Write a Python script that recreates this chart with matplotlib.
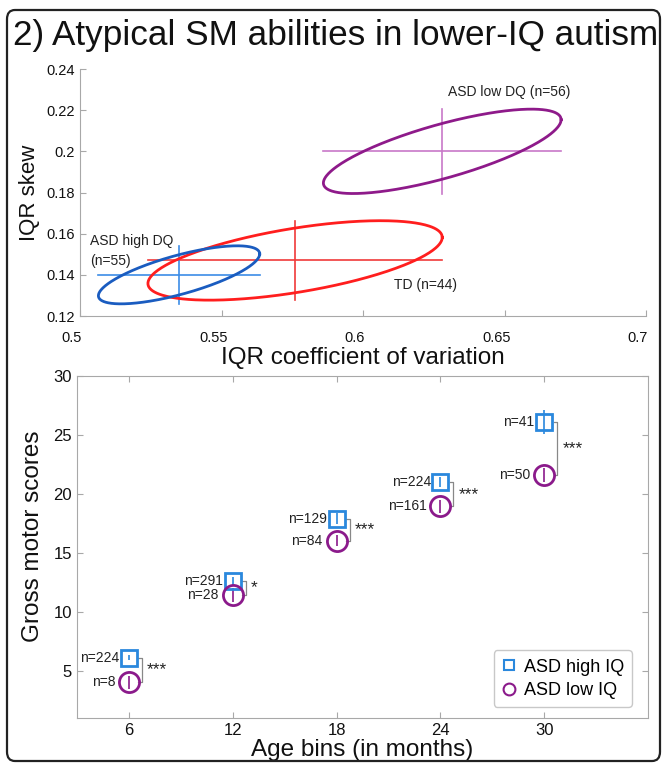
import numpy as np
import matplotlib
matplotlib.use("Agg")
import matplotlib.pyplot as plt
import matplotlib.transforms as mtransforms
from matplotlib.patches import FancyBboxPatch
from matplotlib.lines import Line2D

plt.rcParams['font.family'] = ['Liberation Sans', 'DejaVu Sans']

# ---------------- Data: top panel (ellipses) ----------------
groups = ["ASD low DQ (n=56)", "TD (n=44)", "ASD high DQ\n(n=55)"]
center_cv = [0.628, 0.576, 0.535]
center_skew = [0.200, 0.147, 0.140]
spread_cv = [0.042, 0.052, 0.0285]
spread_skew = [0.0205, 0.0193, 0.0141]
corr = [0.75, 0.58, 0.72]
ell_colors = ["#8E1A8A", "#FF1E1E", "#1A5CC0"]
cross_colors = ["#C878C8", "#F03A3A", "#3C8CE6"]
label_pos = [(0.630, 0.229), (0.611, 0.1352), (0.5035, 0.1515)]

# ---------------- Data: bottom panel ----------------
age_bins = [6, 12, 18, 24, 30]
high_iq = [6.1, 12.6, 17.9, 21.0, 26.1]
high_iq_err = [0.2, 0.35, 0.45, 0.45, 1.0]
low_iq = [4.05, 11.45, 16.05, 18.95, 21.6]
low_iq_err = [0.55, 0.6, 0.45, 0.55, 0.6]
n_high = ["n=224", "n=291", "n=129", "n=224", "n=41"]
n_low = ["n=8", "n=28", "n=84", "n=161", "n=50"]
signif = ["***", "*", "***", "***", "***"]

W, H = 663, 764
fig = plt.figure(figsize=(W / 100, H / 100), dpi=100)

# outer rounded frame
frame = FancyBboxPatch((7 / W, 3 / H), (660 - 7) / W, (754 - 3) / H,
                       boxstyle="round,pad=0,rounding_size=0.012",
                       transform=fig.transFigure, fill=False,
                       edgecolor="#222222", linewidth=1.6)
fig.add_artist(frame)

fig.text(13 / W, 1 - 35 / H, "2) Atypical SM abilities in lower-IQ autism",
         fontsize=25.3, va="center", ha="left", color="#111111")

axis_gray = "#A8A8A8"

# ---------------- Top panel ----------------
ax1 = fig.add_axes([80 / W, 1 - 316 / H, 566 / W, 247 / H])
t = np.linspace(0, 2 * np.pi, 400)
for i in range(len(groups)):
    cx, cy = center_cv[i], center_skew[i]
    sx, sy = spread_cv[i], spread_skew[i]
    th = np.arccos(corr[i])
    ax1.plot(cx + sx * np.cos(t), cy + sy * np.cos(t - th),
             color=ell_colors[i], lw=2.0, zorder=3)
    ax1.plot([cx - sx, cx + sx], [cy, cy], color=cross_colors[i], lw=1.2, zorder=2)
    ax1.plot([cx, cx], [cy - sy, cy + sy], color=cross_colors[i], lw=1.2, zorder=2)
    ax1.text(label_pos[i][0], label_pos[i][1], groups[i], fontsize=10,
             ha="left", va="center", color="#222222", linespacing=1.5)

ax1.set_xlim(0.5, 0.7)
ax1.set_ylim(0.12, 0.24)
ax1.set_xticks([0.5, 0.55, 0.6, 0.65, 0.7])
ax1.set_xticklabels(["0.5", "0.55", "0.6", "0.65", "0.7"])
ax1.set_yticks([0.12, 0.14, 0.16, 0.18, 0.2, 0.22, 0.24])
ax1.set_yticklabels(["0.12", "0.14", "0.16", "0.18", "0.2", "0.22", "0.24"])
for s in ["top", "right"]:
    ax1.spines[s].set_visible(False)
for s in ["left", "bottom"]:
    ax1.spines[s].set_color(axis_gray)
ax1.tick_params(direction="in", colors=axis_gray, labelcolor="#111111",
                labelsize=10.5, length=4)
ax1.tick_params(axis="x", pad=11)
shift = mtransforms.ScaledTranslation(-8 / 100, 0, fig.dpi_scale_trans)
for lab in ax1.get_xticklabels():
    lab.set_transform(lab.get_transform() + shift)
ax1.set_xlabel("IQR coefficient of variation", fontsize=17.5, color="#111111", labelpad=1)
ax1.set_ylabel("IQR skew", fontsize=16, color="#111111", labelpad=5)

# ---------------- Bottom panel ----------------
ax2 = fig.add_axes([77 / W, 1 - 718 / H, 571 / W, 342 / H])
sq_color = "#2A88DD"
ci_color = "#8B1A8B"
ax2.errorbar(age_bins, high_iq, yerr=high_iq_err, fmt="s", color=sq_color,
             ms=11.5, mfc="none", mew=2.0, elinewidth=1.2, capsize=0, zorder=3)
ax2.errorbar(age_bins, low_iq, yerr=low_iq_err, fmt="o", color=ci_color,
             ms=14.5, mfc="none", mew=2.0, elinewidth=1.2, capsize=0, zorder=3)
for i, x in enumerate(age_bins):
    ax2.text(x - 0.55, high_iq[i], n_high[i], ha="right", va="center",
             fontsize=10, color="#222222")
    ax2.text(x - 0.8, low_iq[i], n_low[i], ha="right", va="center",
             fontsize=10, color="#222222")
    bx = x + 0.75
    ax2.plot([bx - 0.2, bx, bx, bx - 0.2], [high_iq[i], high_iq[i], low_iq[i], low_iq[i]],
             color="#888888", lw=0.9, zorder=2)
    ax2.text(bx + 0.3, (high_iq[i] + low_iq[i]) / 2, signif[i], ha="left",
             va="center", fontsize=12.5, color="#222222")

ax2.set_xlim(3, 36)
ax2.set_ylim(1, 30)
ax2.set_xticks(age_bins)
ax2.set_yticks([5, 10, 15, 20, 25, 30])
for s in ax2.spines.values():
    s.set_color(axis_gray)
ax2.tick_params(direction="in", colors=axis_gray, labelcolor="#111111",
                labelsize=12, length=4, top=True, right=True)
ax2.set_xlabel("Age bins (in months)", fontsize=17.5, color="#111111", labelpad=1)
ax2.set_ylabel("Gross motor scores", fontsize=17.5, color="#111111", labelpad=0)
ax2.yaxis.set_label_coords(-0.058, 0.53)

handles = [Line2D([], [], ls="none", marker="s", mfc="none", mec=sq_color, mew=1.5, ms=7.5),
           Line2D([], [], ls="none", marker="o", mfc="none", mec=ci_color, mew=1.5, ms=8.5)]
leg = ax2.legend(handles, ["ASD high IQ", "ASD low IQ"], loc="lower right",
                 bbox_to_anchor=(0.972, 0.032), fontsize=13, frameon=True,
                 fancybox=True, handlelength=0.8, handletextpad=0.4,
                 borderpad=0.45, labelspacing=0.35, borderaxespad=0)
leg.get_frame().set_edgecolor("#BBBBBB")
leg.get_frame().set_linewidth(1.0)

fig.savefig("out.png", dpi=100)
